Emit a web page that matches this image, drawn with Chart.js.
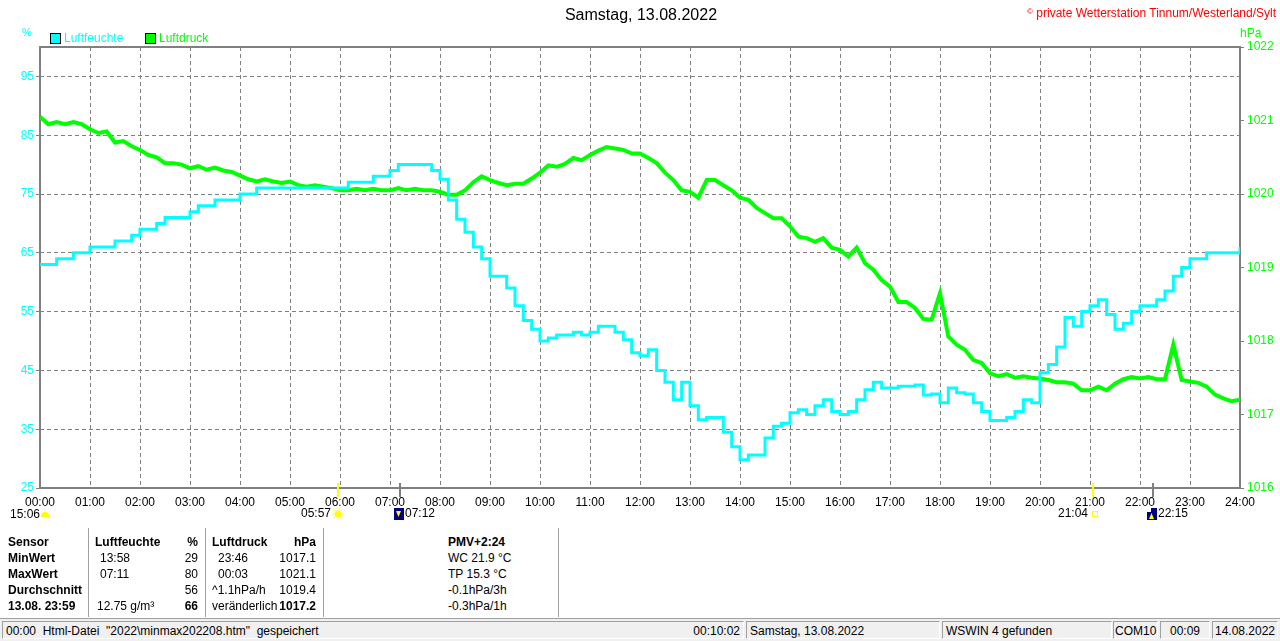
<!DOCTYPE html>
<html>
<head>
<meta charset="utf-8">
<script src="https://cdn.jsdelivr.net/npm/chart.js@4"></script>
<style>
  body { margin: 0; width: 1280px; height: 641px; position: relative; background: #fff;
         font-family: "Liberation Sans", Arial, sans-serif; font-size: 12px; overflow: hidden; }
  .t { position: absolute; white-space: nowrap; line-height: 14px; }
  .b { font-weight: bold; }
  .r { text-align: right; }
  .box { position: absolute; width: 9px; height: 9px; border: 1px solid #000; }
  .vline { position: absolute; top: 528px; height: 89px; width: 1px; background: #a0a0a0; border-right: 1px solid #fff; }
  #status { position: absolute; left: 0; top: 618px; width: 1280px; height: 23px; background: #f0f0f0; border-top: 1px solid #a0a0a0; }
  .panel { position: absolute; top: 2px; height: 18px; line-height: 18px; border-top: 1px solid #a0a0a0; border-left: 1px solid #a0a0a0;
           border-bottom: 1px solid #fff; border-right: 1px solid #fff; white-space: nowrap; padding: 0 3px; box-sizing: border-box; overflow: hidden; }
</style>
</head>
<body>
<canvas id="chart" width="1280" height="525" style="position:absolute;left:0;top:0"></canvas>

<div class="t" style="left:0;width:1282px;text-align:center;top:6px;font-size:16px;line-height:18px">Samstag, 13.08.2022</div>
<div class="t r" style="right:4px;top:5px;color:#ff0000"><span style="font-size:8px;vertical-align:3px">©</span> private Wetterstation Tinnum/Westerland/Sylt</div>
<div class="t" style="left:22px;top:25px;color:#00ffff;font-size:11px">%</div>
<div class="t" style="left:1240px;top:26px;color:#00ff00">hPa</div>
<div class="box" style="left:50px;top:33px;background:#00ffff"></div>
<div class="t" style="left:64px;top:31px;color:#00ffff">Luftfeuchte</div>
<div class="box" style="left:145px;top:33px;background:#00ff00"></div>
<div class="t" style="left:159px;top:31px;color:#00ff00">Luftdruck</div>
<div class="t" style="left:10px;top:507px">15:06</div>
<div style="position:absolute;left:41px;top:512px;width:8px;height:5px;background:#ffff00;border-radius:4px 4px 0 0"></div>

<div class="vline" style="left:88px"></div>
<div class="vline" style="left:205px"></div>
<div class="vline" style="left:323px"></div>
<div class="vline" style="left:558px"></div>

<div class="t b" style="left:8px;top:535px">Sensor</div>
<div class="t b" style="left:8px;top:551px">MinWert</div>
<div class="t b" style="left:8px;top:567px">MaxWert</div>
<div class="t b" style="left:8px;top:583px">Durchschnitt</div>
<div class="t b" style="left:8px;top:599px">13.08. 23:59</div>

<div class="t b" style="left:95px;top:535px">Luftfeuchte</div>
<div class="t b r" style="right:1082px;top:535px">%</div>
<div class="t" style="left:100px;top:551px">13:58</div>
<div class="t r" style="right:1082px;top:551px">29</div>
<div class="t" style="left:100px;top:567px">07:11</div>
<div class="t r" style="right:1082px;top:567px">80</div>
<div class="t r" style="right:1082px;top:583px">56</div>
<div class="t" style="left:97px;top:599px">12.75 g/m³</div>
<div class="t b r" style="right:1082px;top:599px">66</div>

<div class="t b" style="left:212px;top:535px">Luftdruck</div>
<div class="t b r" style="right:964px;top:535px">hPa</div>
<div class="t" style="left:218px;top:551px">23:46</div>
<div class="t r" style="right:964px;top:551px">1017.1</div>
<div class="t" style="left:218px;top:567px">00:03</div>
<div class="t r" style="right:964px;top:567px">1021.1</div>
<div class="t" style="left:212px;top:583px">^1.1hPa/h</div>
<div class="t r" style="right:964px;top:583px">1019.4</div>
<div class="t" style="left:212px;top:599px">veränderlich</div>
<div class="t b r" style="right:964px;top:599px">1017.2</div>

<div class="t b" style="left:448px;top:535px">PMV+2:24</div>
<div class="t" style="left:448px;top:551px">WC 21.9 °C</div>
<div class="t" style="left:448px;top:567px">TP 15.3 °C</div>
<div class="t" style="left:448px;top:583px">-0.1hPa/3h</div>
<div class="t" style="left:448px;top:599px">-0.3hPa/1h</div>

<div id="status">
  <div class="panel" style="left:2px;width:742px">00:00&nbsp; Html-Datei&nbsp; "2022\minmax202208.htm"&nbsp; gespeichert<span style="position:absolute;right:3px">00:10:02</span></div>
  <div class="panel" style="left:746px;width:194px">Samstag, 13.08.2022</div>
  <div class="panel" style="left:942px;width:170px">WSWIN 4 gefunden</div>
  <div class="panel" style="left:1113px;width:45px;padding:0 1px">COM10</div>
  <div class="panel" style="left:1160px;width:50px;text-align:center">00:09</div>
  <div class="panel" style="left:1212px;width:66px;text-align:center;padding:0">14.08.2022</div>
</div>

<script>
// 10-minute readings, 00:00 .. 24:00
const humidity = [
  63, 63, 64, 64, 65, 65,
  66, 66, 66, 67, 67, 68,
  69, 69, 70, 71, 71, 71,
  72, 73, 73, 74, 74, 74,
  75, 75, 76, 76, 76, 76,
  76, 76, 76, 76, 76, 76,
  76, 77, 77, 77, 78, 78,
  79, 80, 80, 80, 80, 79,
  77.5, 74, 70.7, 68.5, 66, 64,
  61, 61, 59, 56, 53.5, 52,
  50, 50.5, 51, 51, 51.5, 51,
  51.5, 52.5, 52.5, 51.5, 50.2, 48,
  47.5, 48.5, 45, 43, 40, 43,
  39, 36.6, 37, 37, 34.5, 32,
  29.8, 30.6, 30.6, 33.5, 35.5, 36,
  37.8, 38.3, 37.5, 39, 40, 38,
  37.5, 38, 40, 41.7, 43, 42,
  42, 42.3, 42.3, 42.5, 40.8, 41,
  39.5, 42, 41.2, 41, 39.5, 38,
  36.5, 36.5, 37, 38, 40, 39.5,
  44.6, 46, 49, 54, 52.5, 55,
  56, 57, 54.5, 52, 53, 55,
  56, 56, 57, 58.5, 61, 62.5,
  64, 64, 65, 65, 65, 65,
  66
];

const pressure = [
  1021.05, 1020.95, 1020.98, 1020.95, 1020.98, 1020.95,
  1020.88, 1020.83, 1020.85, 1020.70, 1020.72, 1020.65,
  1020.60, 1020.53, 1020.50, 1020.42, 1020.42, 1020.40,
  1020.35, 1020.38, 1020.33, 1020.36, 1020.32, 1020.30,
  1020.25, 1020.20, 1020.17, 1020.20, 1020.17, 1020.15,
  1020.17, 1020.12, 1020.10, 1020.12, 1020.10, 1020.08,
  1020.05, 1020.05, 1020.07, 1020.05, 1020.07, 1020.05,
  1020.05, 1020.08, 1020.05, 1020.07, 1020.05, 1020.05,
  1020.03, 1019.99, 1019.99, 1020.05, 1020.16, 1020.24,
  1020.19, 1020.15, 1020.12, 1020.14, 1020.14, 1020.21,
  1020.29, 1020.39, 1020.37, 1020.41, 1020.49, 1020.46,
  1020.53, 1020.59, 1020.64, 1020.62, 1020.60, 1020.55,
  1020.55, 1020.49, 1020.42, 1020.29, 1020.19, 1020.05,
  1020.03, 1019.95, 1020.19, 1020.19, 1020.12, 1020.05,
  1019.95, 1019.92, 1019.81, 1019.74, 1019.67, 1019.67,
  1019.56, 1019.42, 1019.40, 1019.35, 1019.40, 1019.27,
  1019.24, 1019.15, 1019.27, 1019.06, 1018.97, 1018.83,
  1018.74, 1018.53, 1018.53, 1018.45, 1018.30, 1018.29,
  1018.65, 1018.06, 1017.95, 1017.88, 1017.74, 1017.70,
  1017.56, 1017.52, 1017.55, 1017.50, 1017.52, 1017.50,
  1017.49, 1017.47, 1017.44, 1017.44, 1017.42, 1017.33,
  1017.33, 1017.38, 1017.33, 1017.42, 1017.48, 1017.51,
  1017.49, 1017.51, 1017.48, 1017.48, 1017.95, 1017.47,
  1017.45, 1017.43, 1017.38, 1017.27, 1017.22, 1017.18,
  1017.20
];

const hourLabels = ["00:00", "01:00", "02:00", "03:00", "04:00", "05:00", "06:00", "07:00",
  "08:00", "09:00", "10:00", "11:00", "12:00", "13:00", "14:00", "15:00", "16:00",
  "17:00", "18:00", "19:00", "20:00", "21:00", "22:00", "23:00", "24:00"];
const humTicks = [25, 35, 45, 55, 65, 75, 85, 95];
const pressTicks = [1016, 1017, 1018, 1019, 1020, 1021, 1022];

// sun / moon events, minutes after midnight
const events = [
  { t: 357, label: "05:57", kind: "sunrise" },
  { t: 432, label: "07:12", kind: "moonset" },
  { t: 1264, label: "21:04", kind: "sunset" },
  { t: 1335, label: "22:15", kind: "moonrise" },
];

const step = 10;
const toPoints = (arr) => arr.map((v, i) => ({ x: i * step, y: v }));

const frame = {
  id: "frame",
  beforeDatasetsDraw(chart) {
    const { ctx, chartArea: a } = chart;
    ctx.save();
    ctx.strokeStyle = "#808080";
    ctx.lineWidth = 2;
    ctx.strokeRect(a.left, a.top, a.right - a.left, a.bottom - a.top);
    ctx.restore();
  },
};

const markers = {
  id: "markers",
  afterDraw(chart) {
    const { ctx, chartArea: a } = chart;
    const xs = chart.scales.x;
    ctx.save();
    ctx.font = "12px 'Liberation Sans', Arial";
    ctx.textBaseline = "middle";
    events.forEach((e) => {
      const x = Math.round(xs.getPixelForValue(e.t));
      const sun = e.kind.startsWith("sun");
      ctx.strokeStyle = sun ? "#ffff00" : "#808080";
      ctx.lineWidth = 2;
      ctx.beginPath();
      ctx.moveTo(x, a.bottom - 5);
      ctx.lineTo(x, a.bottom + 9);
      ctx.stroke();
      const ty = a.bottom + 26;
      ctx.fillStyle = "#000";
      if (e.kind === "sunrise") {
        ctx.textAlign = "right";
        ctx.fillText(e.label, x - 7, ty);
        ctx.fillStyle = "#ffff00";
        ctx.beginPath();
        ctx.arc(x, ty, 3.5, 0, Math.PI * 2);
        ctx.fill();
        ctx.strokeStyle = "#ffff00";
        ctx.lineWidth = 1;
        for (let k = 0; k < 8; k++) {
          const ang = (k * Math.PI) / 4;
          ctx.beginPath();
          ctx.moveTo(x + Math.cos(ang) * 4.5, ty + Math.sin(ang) * 4.5);
          ctx.lineTo(x + Math.cos(ang) * 6, ty + Math.sin(ang) * 6);
          ctx.stroke();
        }
      } else if (e.kind === "sunset") {
        ctx.textAlign = "right";
        ctx.fillText(e.label, x - 5, ty);
        ctx.strokeStyle = "#ffff00";
        ctx.lineWidth = 1;
        ctx.strokeRect(x - 0.5, ty - 2.5, 5, 5);
      } else {
        ctx.fillStyle = "#000080";
        ctx.fillRect(x - 6, ty - 6, 10, 12);
        ctx.fillStyle = "#ffff00";
        ctx.beginPath();
        if (e.kind === "moonset") {
          ctx.moveTo(x - 4, ty - 3); ctx.lineTo(x + 1, ty - 3); ctx.lineTo(x - 1.5, ty + 3);
        } else {
          ctx.moveTo(x - 4, ty + 5); ctx.lineTo(x + 1, ty + 5); ctx.lineTo(x - 1.5, ty - 1);
          ctx.fillStyle = "#ffffff";
          ctx.fillRect(x - 6, ty - 6, 4, 4);
          ctx.fillStyle = "#ffff00";
        }
        ctx.fill();
        ctx.fillStyle = "#000";
        ctx.textAlign = "left";
        ctx.fillText(e.label, x + 5, ty);
      }
    });
    ctx.restore();
  },
};

new Chart(document.getElementById("chart"), {
  type: "line",
  data: {
    datasets: [
      {
        label: "Luftfeuchte",
        data: toPoints(humidity),
        yAxisID: "y",
        borderColor: "#00ffff",
        borderWidth: 3,
        pointRadius: 0,
        stepped: true,
      },
      {
        label: "Luftdruck",
        data: toPoints(pressure),
        yAxisID: "y1",
        borderColor: "#00ff00",
        borderWidth: 4,
        pointRadius: 0,
      },
    ],
  },
  options: {
    responsive: false,
    animation: false,
    devicePixelRatio: 1,
    layout: { padding: { top: 47, left: 0, right: 0, bottom: 0 } },
    plugins: { legend: { display: false }, tooltip: { enabled: false } },
    scales: {
      x: {
        type: "linear",
        min: 0,
        max: 1440,
        afterBuildTicks: (s) => { s.ticks = hourLabels.map((l, i) => ({ value: i * 60 })); },
        afterFit: (s) => { s.height = 37; },
        ticks: {
          color: "#000",
          font: { family: "'Liberation Sans', Arial", size: 12 },
          padding: 7,
          maxRotation: 0,
          autoSkip: false,
          callback: (v) => hourLabels[v / 60],
        },
        grid: { color: "#808080", lineWidth: 1, drawTicks: false },
        border: { display: false, dash: [4, 3] },
      },
      y: {
        position: "left",
        min: 25,
        max: 100,
        afterBuildTicks: (s) => { s.ticks = humTicks.map((v) => ({ value: v })); },
        afterFit: (s) => { s.width = 40; },
        ticks: { color: "#00ffff", font: { family: "'Liberation Sans', Arial", size: 12 }, padding: 2,
                 callback: (v) => String(v) },
        grid: { color: "#808080", lineWidth: 1, tickLength: 4 },
        border: { display: false, dash: [4, 3] },
      },
      y1: {
        position: "right",
        min: 1016,
        max: 1022,
        afterBuildTicks: (s) => { s.ticks = pressTicks.map((v) => ({ value: v })); },
        afterFit: (s) => { s.width = 40; },
        ticks: { color: "#00ff00", font: { family: "'Liberation Sans', Arial", size: 12 }, padding: 3,
                 callback: (v) => String(v) },
        grid: { color: "#808080", lineWidth: 1, tickLength: 4, drawOnChartArea: false },
        border: { display: false },
      },
    },
  },
  plugins: [frame, markers],
});
</script>
</body>
</html>
